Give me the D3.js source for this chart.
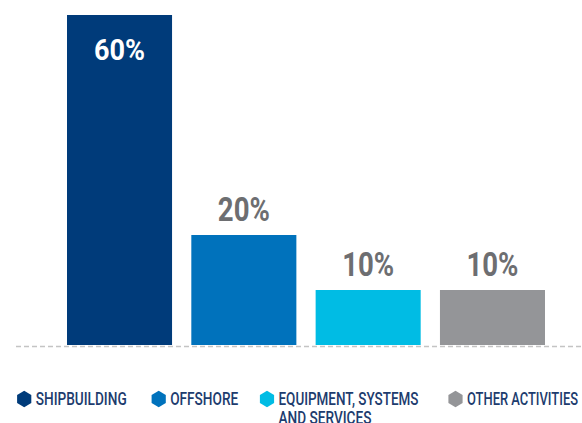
<!DOCTYPE html>
<html><head><meta charset="utf-8">
<script src="https://cdn.jsdelivr.net/npm/d3@7"></script>
<style>
body{margin:0;background:#fff;}
svg{display:block;}
.cond{font-family:"Roboto","Liberation Sans",sans-serif;}
</style></head>
<body>
<svg id="c" width="582" height="423"></svg>
<script>
const categories = ["SHIPBUILDING","OFFSHORE","EQUIPMENT, SYSTEMS|AND SERVICES","OTHER ACTIVITIES"];
const values = [60,20,10,10];
const valueLabels = ["60%","20%","10%","10%"];
const colors = ["#003b7a","#0072bc","#00bce4","#949598"];

const svg = d3.select("#c");
const baseY = 345;
const x = d3.scaleBand().domain(d3.range(values.length)).range([67,545]).paddingInner(0.155).paddingOuter(0);
const y = d3.scaleLinear().domain([0,60]).range([baseY,15]);

svg.selectAll("rect.bar").data(values).join("rect")
  .attr("class","bar")
  .attr("x",(d,i)=>x(i)).attr("width",x.bandwidth())
  .attr("y",d=>y(d)).attr("height",d=>baseY-y(d))
  .attr("fill",(d,i)=>colors[i]);

svg.append("line").attr("x1",16).attr("x2",582).attr("y1",baseY+1.5).attr("y2",baseY+1.5)
  .attr("stroke","#c4c4c4").attr("stroke-width",1.3).attr("stroke-dasharray","5,3");

svg.selectAll("text.val").data(values).join("text")
  .attr("class","val cond")
  .attr("x",(d,i)=>x(i)+x.bandwidth()/2)
  .attr("y",(d,i)=> i===0 ? y(d)+44.5 : y(d)-14.5)
  .attr("text-anchor","middle")
  .attr("font-size",(d,i)=> i===0 ? 30 : 34).attr("font-weight","bold")
  .attr("textLength",(d,i)=> i===0 ? 51 : 52).attr("lengthAdjust","spacingAndGlyphs")
  .attr("fill",(d,i)=> i===0 ? "#ffffff" : "#6d6e71")
  .text((d,i)=>valueLabels[i]);

const legX = [24.2,158.7,267,455.5];
const legW = [[91],[68],[140,93],[111]];
const hex = r => d3.range(6).map(k=>{const a=Math.PI/3*k+Math.PI/6;return [r*Math.cos(a),r*Math.sin(a)];});
const g = svg.selectAll("g.leg").data(categories).join("g").attr("class","leg")
  .attr("transform",(d,i)=>`translate(${legX[i]},399)`);
g.append("polygon").attr("points",hex(8.2).map(p=>p.join(",")).join(" "))
  .attr("fill",(d,i)=>colors[i]);
g.each(function(d,i){
  d.split("|").forEach((line,j)=>{
    d3.select(this).append("text").attr("class","cond")
      .attr("x",11.5).attr("y",5.8 + j*19.5).attr("font-size",17.5).attr("font-weight",500).attr("fill","#1d3c6e")
      .attr("textLength",legW[i][j]).attr("lengthAdjust","spacingAndGlyphs")
      .text(line);
  });
});
</script>
</body></html>
